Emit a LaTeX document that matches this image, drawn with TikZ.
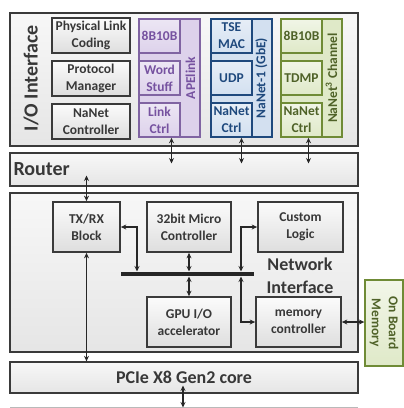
\documentclass[tikz,border=0pt]{standalone}
\usepackage{fontspec}
\setmainfont{Carlito}
\usepackage{tikz}
\usetikzlibrary{positioning, arrows.meta, shadows, calc}

\definecolor{ink}{HTML}{383838}
\definecolor{frame}{HTML}{3A3A3A}
\definecolor{apeline}{HTML}{8064A2}
\definecolor{apefill}{HTML}{DDD2EB}
\definecolor{apetext}{HTML}{7652A0}
\definecolor{gbeline}{HTML}{1F497D}
\definecolor{gbefill}{HTML}{D3E0F0}
\definecolor{chline}{HTML}{6F8B36}
\definecolor{chfill}{HTML}{DFE9C8}
\definecolor{chtext}{HTML}{4F6228}

\newcommand{\smalltxt}{\fontsize{13.5}{17}\selectfont\bfseries}
\newcommand{\bigtxt}{\fontsize{20}{24}\selectfont\bfseries}
\newcommand{\midtxt}{\fontsize{18}{23}\selectfont\bfseries}

\tikzset{
  layer/.style={draw=frame, line width=1.3pt, top color=gray!6, bottom color=gray!20, inner sep=0pt},
  block/.style={draw=frame, line width=1.7pt, top color=gray!3, bottom color=gray!26,
    text=ink, font=\smalltxt, align=center, inner sep=0pt,
    drop shadow={opacity=0.35, shadow xshift=1.2pt, shadow yshift=-1.2pt}},
  column/.style={line width=1.3pt, minimum width=61, minimum height=118, inner sep=0pt},
  cell/.style={line width=1.6pt, font=\smalltxt, align=center, minimum width=41, minimum height=34, inner sep=0pt},
  apecell/.style={cell, draw=apeline, top color=apefill!55, bottom color=apefill, text=apetext},
  gbecell/.style={cell, draw=gbeline, top color=gbefill!55, bottom color=gbefill, text=gbeline},
  chcell/.style={cell, draw=chline, top color=chfill!45, bottom color=chfill, text=chtext},
  coltxt/.style={rotate=90, font=\smalltxt, inner sep=0pt},
  link/.style={{Stealth[length=5.5pt,width=5pt]}-{Stealth[length=5.5pt,width=5pt]}, draw=ink!70!black, line width=1.3pt},
  bus/.style={line width=4.5pt, draw=black!85}
}

\begin{document}
\begin{tikzpicture}[x=1pt, y=-1pt]
    \useasboundingbox (0,0) rectangle (404,408);

    % I/O interface with its three channels
    \node[layer, minimum width=348, minimum height=133] (ioif) at (184,79.5) {};
    \node[rotate=90, font=\bigtxt, text=ink] (iolbl) at (31,78) {I/O Interface};
    \node[block, minimum width=78, minimum height=35] (plc) at (91,35.5) {Physical Link\\Coding};
    \node[block, minimum width=78, minimum height=35] (pm) at (91,78.5) {Protocol\\Manager};
    \node[block, minimum width=78, minimum height=35] (nc) at (91,121.5) {NaNet\\Controller};

    \node[column, draw=apeline, fill=apefill] (apelink) at (169.5,78) {};
    \node[apecell] (ape8b) at (159.5,36) {8B10B};
    \node[apecell] (apews) at (159.5,78) {Word\\Stuff};
    \node[apecell] (apectrl) at (159.5,120) {Link\\Ctrl};
    \node[coltxt, text=apetext] (apelbl) at (190.5,78) {APElink};

    \node[column, draw=gbeline, fill=gbefill] (gbe) at (241.5,78) {};
    \node[gbecell] (gbemac) at (231.5,36) {TSE\\MAC};
    \node[gbecell] (gbeudp) at (231.5,78) {UDP};
    \node[gbecell] (gbectrl) at (231.5,120) {NaNet\\Ctrl};
    \node[coltxt, text=gbeline] (gbelbl) at (261.5,78) {NaNet-1 (GbE)};

    \node[column, draw=chline, fill=chfill] (ch) at (311.5,78) {};
    \node[chcell] (ch8b) at (301.5,36) {8B10B};
    \node[chcell] (chtdmp) at (301.5,78) {TDMP};
    \node[chcell] (chctrl) at (301.5,120) {NaNet\\Ctrl};
    \node[coltxt, text=chtext] (chlbl) at (331.5,78) {NaNet\textsuperscript{3} Channel};

    % router
    \node[layer, minimum width=348, minimum height=33] (router) at (184,169.5) {};
    \node[font=\bigtxt, text=ink, anchor=west, inner sep=0pt] (routerlbl) at ([xshift=4]router.west) {Router};

    % network interface
    \node[layer, minimum width=348, minimum height=159] (netif) at (184,272.5) {};
    \node[block, minimum width=67, minimum height=50] (txrx) at (86.5,227) {TX/RX\\Block};
    \node[block, minimum width=84, minimum height=50] (mc) at (189,227) {32bit Micro\\Controller};
    \node[block, minimum width=85, minimum height=50] (custom) at (300.5,227) {Custom\\Logic};
    \node[block, minimum width=84, minimum height=50] (gpu) at (189,322) {GPU I/O\\accelerator};
    \node[block, minimum width=85, minimum height=50] (mem) at (298.5,322) {memory\\controller};
    \node[font=\midtxt, text=ink, align=center, inner sep=0pt] (netlbl) at (300,276) {Network\\Interface};

    \node[draw=chline, line width=1.3pt, top color=chfill!40, bottom color=chfill, rotate=-90,
          minimum width=86, minimum height=38, inner sep=0pt, font=\smalltxt, text=chtext, align=center]
          (obm) at (384,323) {On Board\\Memory};

    % PCIe core and host side
    \node[layer, minimum width=348, minimum height=31] (pcie) at (184,377.5) {};
    \node[font=\midtxt, text=ink, inner sep=0pt] (pcielbl) at (pcie.center) {PCIe X8 Gen2 core};
    \coordinate (host) at (183,407.5);
    \draw[gray!55, line width=0.8pt] (10,407.5) -- (358,407.5);

    % bus
    \coordinate (busL) at (121,274);
    \coordinate (busR) at (254,274);
    \draw[bus] (busL) -- (busR);

    % connectors
    \draw[link, shorten >=6] ([xshift=12]apectrl.south) -- ([xshift=12]apectrl.south |- router.center);
    \draw[link, shorten >=6] ([xshift=10]gbectrl.south) -- ([xshift=10]gbectrl.south |- router.center);
    \draw[link, shorten >=6] ([xshift=7]chctrl.south) -- ([xshift=7]chctrl.south |- router.center);
    \draw[link, shorten <=6] (txrx.north |- router.center) -- (txrx.north);
    \draw[link] (txrx.south) -- (txrx.south |- pcie.north);
    \draw[link, shorten >=2.5] (txrx.east) -| ([xshift=16]busL);
    \draw[link, shorten >=2.5] (mc.south) -- (mc.south |- busL);
    \draw[link, shorten >=2.5] (custom.west) -| ([xshift=-13]busR);
    \draw[link, shorten >=2.5] (gpu.north) -- (gpu.north |- busL);
    \draw[link, shorten >=2.5] (mem.west) -| ([xshift=-13]busR);
    \draw[link] (mem.east) -- (mem.east -| obm.south);
    \draw[link, shorten <=8] (pcie.center -| host) -- (host);
\end{tikzpicture}
\end{document}
